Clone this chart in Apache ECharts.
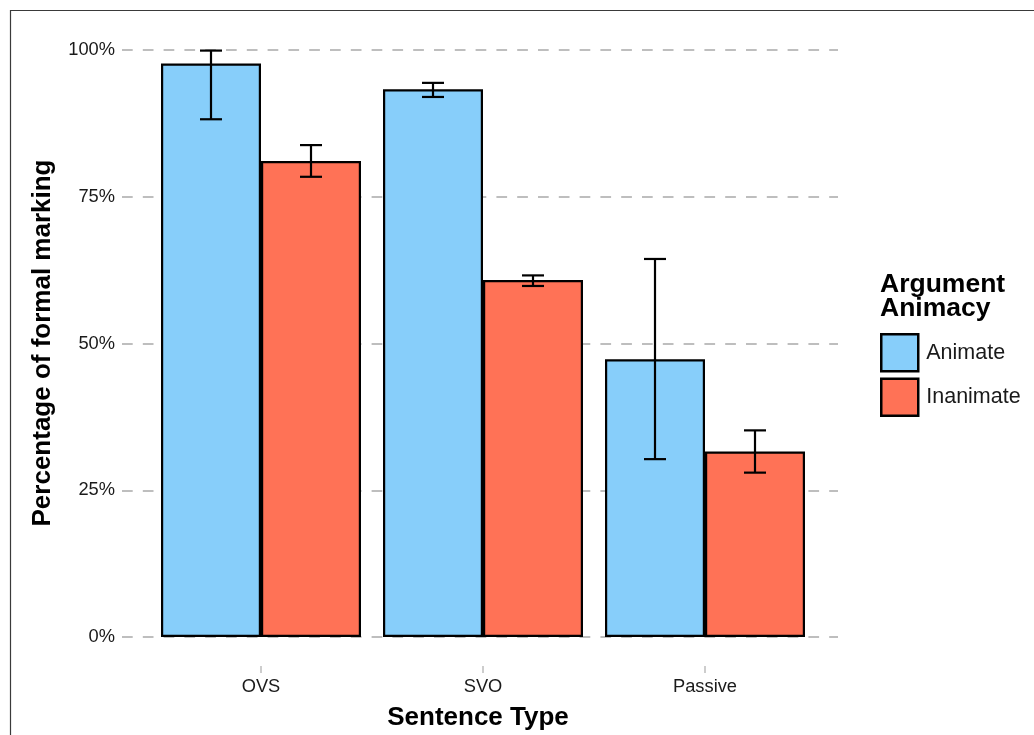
<!DOCTYPE html>
<html>
<head>
<meta charset="utf-8">
<script src="https://cdn.jsdelivr.net/npm/echarts@6/dist/echarts.min.js"></script>
<style>html,body{margin:0;padding:0;background:#fff;}#c{width:1034px;height:735px;}</style>
</head>
<body>
<div id="c"></div>
<script>
const categories = ['OVS', 'SVO', 'Passive'];
const seriesNames = ['Animate', 'Inanimate'];
const animate = [97.7, 93.3, 47.3];
const inanimate = [81.1, 60.8, 31.6];
const animateLow = [88.2, 92.0, 30.3];
const animateHigh = [99.9, 94.4, 64.4];
const inanimateLow = [78.4, 59.8, 28.0];
const inanimateHigh = [83.8, 61.6, 35.2];
const yTicks = [0, 25, 50, 75, 100];

const FONT = "'Liberation Sans', Arial, Helvetica, sans-serif";
const BAR_W = 100;
const COLORS = ['#87CEFA', '#FF7256'];

function errData(lo, hi) {
  return categories.map((c, i) => [i, lo[i], hi[i]]);
}
function errSeries(lo, hi, side) {
  return {
    type: 'custom',
    xAxisIndex: 0, yAxisIndex: 0,
    z: 5,
    silent: true,
    encode: { x: 0, y: [1, 2] },
    data: errData(lo, hi),
    renderItem: function (params, api) {
      const cat = api.value(0);
      const pLo = api.coord([cat, api.value(1)]);
      const pHi = api.coord([cat, api.value(2)]);
      const x = pLo[0] + side * BAR_W / 2;
      const cap = 11;
      const st = { stroke: '#000', lineWidth: 2.2, fill: null };
      return {
        type: 'group',
        children: [
          { type: 'line', shape: { x1: x, y1: pHi[1], x2: x, y2: pLo[1] }, style: st },
          { type: 'line', shape: { x1: x - cap, y1: pHi[1], x2: x + cap, y2: pHi[1] }, style: st },
          { type: 'line', shape: { x1: x - cap, y1: pLo[1], x2: x + cap, y2: pLo[1] }, style: st }
        ]
      };
    }
  };
}

const chart = echarts.init(document.getElementById('c'), null, { renderer: 'canvas' });
chart.setOption({
  animation: false,
  backgroundColor: '#fff',
  textStyle: { fontFamily: FONT },
  grid: [
    { left: 150, right: 218, top: 50, bottom: 98 },
    { left: 122, right: 196, top: 50, bottom: 98 },
    { left: 150, right: 218, top: 50, bottom: 69 }
  ],
  xAxis: [
    { type: 'category', gridIndex: 0, data: categories, show: false },
    { type: 'value', gridIndex: 1, show: false, min: 0, max: 1 },
    {
      type: 'category', gridIndex: 2, data: categories,
      axisLine: { show: false },
      axisTick: { show: true, alignWithLabel: true, length: 7, lineStyle: { color: '#bdbdbd', width: 1.5 } },
      axisLabel: { color: '#1a1a1a', fontSize: 18.3, margin: 12, fontFamily: FONT },
      splitLine: { show: false }
    }
  ],
  yAxis: [
    { type: 'value', gridIndex: 0, min: 0, max: 100, show: false, splitLine: { show: false } },
    {
      type: 'value', gridIndex: 1, min: 0, max: 100, interval: 25,
      axisLine: { show: false }, axisTick: { show: false },
      axisLabel: { color: '#1a1a1a', fontSize: 18.3, margin: 7, fontFamily: FONT, formatter: '{value}%' },
      splitLine: { show: true, lineStyle: { color: '#bebebe', width: 1.8, type: [10.7, 10.1] } }
    },
    { type: 'value', gridIndex: 2, min: 0, max: 100, show: false, splitLine: { show: false } }
  ],
  legend: {
    orient: 'vertical',
    left: 880, top: 333,
    padding: 0,
    itemWidth: 37, itemHeight: 37, itemGap: 5,
    icon: 'rect',
    data: seriesNames,
    itemStyle: { borderColor: '#000', borderWidth: 2.5 },
    textStyle: { fontSize: 21.5, color: '#1a1a1a', fontFamily: FONT, padding: [0, 0, 0, 3] },
    selectedMode: false
  },
  graphic: [
    { type: 'rect', silent: true, shape: { x: 10.5, y: 10.5, width: 1100, height: 1000 }, style: { fill: null, stroke: '#3a3a3a', lineWidth: 1.2 } },
    { type: 'text', silent: true, x: 880, y: 273, style: { text: 'Argument\nAnimacy', font: "bold 26.5px " + FONT, lineHeight: 23.5, fill: '#000' } },
    { type: 'text', silent: true, x: 478, y: 718, style: { text: 'Sentence Type', font: "bold 26px " + FONT, fill: '#000', align: 'center', verticalAlign: 'middle' } },
    { type: 'text', silent: true, x: 43, y: 343, rotation: Math.PI / 2, style: { text: 'Percentage of formal marking', font: "bold 26px " + FONT, fill: '#000', align: 'center', verticalAlign: 'middle' } }
  ],
  series: [
    {
      name: seriesNames[0], type: 'bar', xAxisIndex: 0, yAxisIndex: 0,
      data: animate, barWidth: BAR_W, barGap: '0%',
      itemStyle: { color: COLORS[0], borderColor: '#000', borderWidth: 2.2 }
    },
    {
      name: seriesNames[1], type: 'bar', xAxisIndex: 0, yAxisIndex: 0,
      data: inanimate, barWidth: BAR_W, barGap: '0%',
      itemStyle: { color: COLORS[1], borderColor: '#000', borderWidth: 2.2 }
    },
    errSeries(animateLow, animateHigh, -1),
    errSeries(inanimateLow, inanimateHigh, 1)
  ]
});
</script>
</body>
</html>
